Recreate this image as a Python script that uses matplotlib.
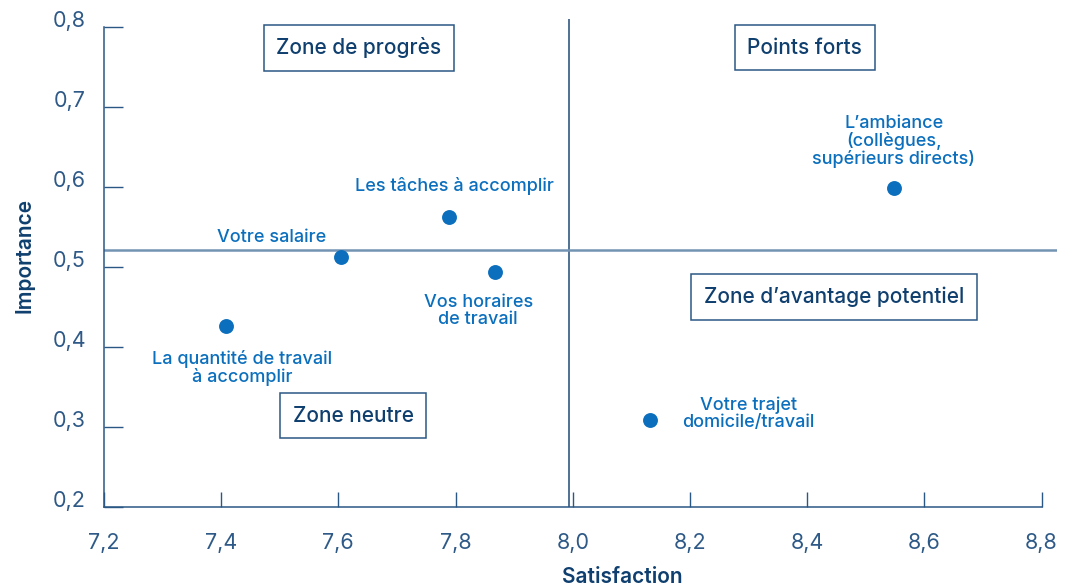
import matplotlib.pyplot as plt
import matplotlib.ticker as mticker

plt.rcParams['font.family'] = ['Inter', 'DejaVu Sans']

# data
items = ['La quantité de travail\nà accomplir', 'Votre salaire', 'Les tâches à accomplir',
         'Vos horaires\nde travail', 'Votre trajet\ndomicile/travail',
         'L\u2019ambiance\n(collègues,\nsupérieurs directs)']
satisfaction = [7.408, 7.604, 7.789, 7.867, 8.132, 8.548]
importance = [0.426, 0.5125, 0.5625, 0.494, 0.309, 0.599]
# label offsets in points (dx, dy)
label_offsets = [(12, -30), (-50, 14), (4, 22), (-12, -28), (71, 4), (0, 33)]

mean_sat = 7.994
mean_imp = 0.521

zones = ['Zone de progrès', 'Points forts', 'Zone d\u2019avantage potentiel', 'Zone neutre']
zone_pos = [(7.635, 0.774), (8.396, 0.774), (8.446, 0.4625), (7.625, 0.314)]

xticks = [7.2, 7.4, 7.6, 7.8, 8.0, 8.2, 8.4, 8.6, 8.8]
yticks = [0.2, 0.3, 0.4, 0.5, 0.6, 0.7, 0.8]

blue = '#0b6fbd'
navy = '#0f3f6e'
axis_col = '#2b5784'

fig = plt.figure(figsize=(10.73, 5.86), dpi=100)
ax = fig.add_axes([0.0969, 0.1348, 0.888, 0.833])

ax.set_xlim(7.2, 8.826)
ax.set_ylim(0.2, 0.81)

ax.axvline(mean_sat, color='#1f4a78', lw=1.1, zorder=1)
ax.axhline(mean_imp, color='#7393b3', lw=1.8, zorder=1)

ax.scatter(satisfaction, importance, s=115, color=blue, zorder=3, linewidths=0)

for name, x, y, off in zip(items, satisfaction, importance, label_offsets):
    ax.annotate(name, (x, y), xytext=off, textcoords='offset points',
                ha='center', va='center', color=blue, fontsize=13,
                fontweight='medium', linespacing=1.0)

for z, (x, y) in zip(zones, zone_pos):
    ax.text(x, y, z, ha='center', va='center', color=navy, fontsize=15,
            fontweight='medium',
            bbox=dict(boxstyle='square,pad=0.6', fc='white', ec='#2b5784', lw=1.1))

for s in ['top', 'right']:
    ax.spines[s].set_visible(False)
for s in ['left', 'bottom']:
    ax.spines[s].set_color(axis_col)
    ax.spines[s].set_linewidth(1.1)
ax.spines['bottom'].set_bounds(7.2, 8.8)
ax.spines['left'].set_bounds(0.2, 0.8)

fmt = mticker.FuncFormatter(lambda v, p: f'{v:.1f}'.replace('.', ','))
ax.set_xticks(xticks)
ax.set_yticks(yticks)
ax.xaxis.set_major_formatter(fmt)
ax.yaxis.set_major_formatter(fmt)
ax.tick_params(axis='x', direction='in', length=11, width=1.0, color=axis_col,
               labelcolor='#2f5a87', labelsize=15.5, pad=19)
ax.tick_params(axis='y', direction='in', length=14, width=1.0, color=axis_col,
               labelcolor='#2f5a87', labelsize=15.5, pad=13)
for lab in ax.get_yticklabels():
    lab.set_verticalalignment('baseline')

ax.set_xlabel('Satisfaction', color=navy, fontsize=15, fontweight='semibold', va='center')
ax.set_ylabel('Importance', color=navy, fontsize=15, fontweight='semibold', va='center')
ax.xaxis.set_label_coords(0.5437, -0.143)
ax.yaxis.set_label_coords(-0.083, 0.516)

fig.savefig('out.png', dpi=100)
